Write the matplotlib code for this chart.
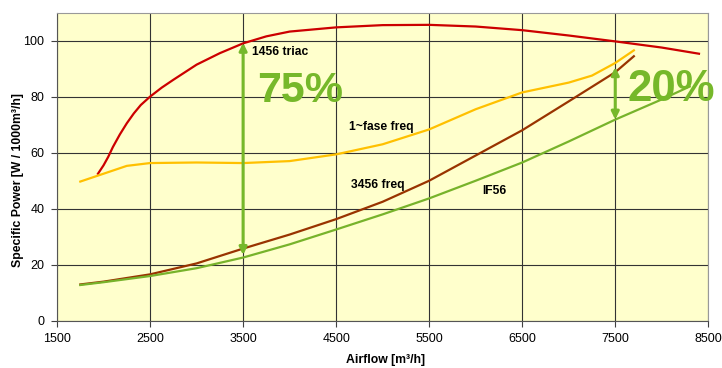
import matplotlib.pyplot as plt

triac_x = [1940, 2000, 2050, 2100, 2175, 2250, 2325, 2400, 2500, 2625, 2750, 3000,
           3250, 3500, 3750, 4000, 4500, 5000, 5500, 6000, 6500, 7000, 7500, 8000,
           8400]
triac_y = [52.5, 55.5, 58.5, 62, 66.5, 70.5, 74, 77, 80, 83.2, 86, 91.4,
           95.5, 99, 101.5, 103.2, 104.7, 105.5, 105.6, 105, 103.7, 101.8, 99.7, 97.5,
           95.3]

fase_x = [1750, 2000, 2250, 2500, 3000, 3500, 4000, 4500, 5000, 5500, 6000, 6500,
          7000, 7250, 7500, 7700]
fase_y = [49.7, 52.5, 55.3, 56.3, 56.5, 56.3, 57, 59.4, 63, 68.3, 75.5, 81.5,
          85, 87.5, 92, 96.5]

freq_x = [1750, 2000, 2500, 3000, 3500, 4000, 4500, 5000, 5500, 6000, 6500, 7000,
          7500, 7700]
freq_y = [13, 14, 16.6, 20.5, 25.8, 30.8, 36.3, 42.5, 50, 59, 68, 78.3, 88.7, 94.4]

if56_x = [1750, 2000, 2500, 3000, 3500, 4000, 4500, 5000, 5500, 6000, 6500, 7000,
          7500, 8000, 8300]
if56_y = [12.8, 13.8, 16, 18.8, 22.6, 27.3, 32.6, 38, 43.7, 50, 56.5, 64,
          71.8, 79, 83.6]

x_ticks = [1500, 2500, 3500, 4500, 5500, 6500, 7500, 8500]
y_ticks = [0, 20, 40, 60, 80, 100]

plt.rcParams['font.family'] = ['Liberation Sans', 'DejaVu Sans']

fig = plt.figure(figsize=(7.22, 3.68), dpi=100)
ax = fig.add_axes([0.079, 0.128, 0.902, 0.838])
ax.set_facecolor('#FFFFCC')

ax.plot(triac_x, triac_y, color='#CC0000', lw=1.6, zorder=3)
ax.plot(fase_x, fase_y, color='#FFC000', lw=1.6, zorder=3)
ax.plot(freq_x, freq_y, color='#993300', lw=1.6, zorder=3)
ax.plot(if56_x, if56_y, color='#77B32B', lw=1.6, zorder=3)

green = '#76B82A'
arrow = dict(arrowstyle='<|-|>', color=green, lw=2.2, mutation_scale=11,
             shrinkA=0, shrinkB=0)
ax.annotate('', xy=(3500, 99.2), xytext=(3500, 23.5), arrowprops=arrow, zorder=4)
ax.annotate('', xy=(7500, 90.5), xytext=(7500, 71.8), arrowprops=arrow, zorder=4)

ax.text(3650, 82, '75%', color=green, fontsize=31, fontweight='bold',
        va='center', ha='left', zorder=5)
ax.text(7630, 82.5, '20%', color=green, fontsize=31.5, fontweight='bold',
        va='center', ha='left', zorder=5)

ax.text(3600, 96, '1456 triac', fontsize=8.7, fontweight='bold', va='center')
ax.text(4640, 69.2, '1~fase freq', fontsize=8.7, fontweight='bold', va='center')
ax.text(4658, 48.6, '3456 freq', fontsize=8.7, fontweight='bold', va='center')
ax.text(6073, 46.2, 'IF56', fontsize=8.7, fontweight='bold', va='center')

ax.set_xlim(1500, 8500)
ax.set_ylim(0, 110)
ax.set_xticks(x_ticks)
ax.set_yticks(y_ticks)
ax.grid(True, color='#333333', lw=0.8, zorder=1)
ax.set_axisbelow(True)
ax.tick_params(direction='out', length=4, color='#404040', labelsize=9, pad=5)

for s in ['top', 'right']:
    ax.spines[s].set_color('#999999')
for s in ['left', 'bottom']:
    ax.spines[s].set_color('#555555')

ax.set_xlabel('Airflow [m³/h]', fontsize=8.8, fontweight='bold', va='center')
ax.set_ylabel('Specific Power [W / 1000m³/h]', fontsize=8.8, fontweight='bold',
              va='center')
ax.xaxis.set_label_coords(0.504, -0.126)
ax.yaxis.set_label_coords(-0.06, 0.456)

fig.savefig('out.png', dpi=100)
